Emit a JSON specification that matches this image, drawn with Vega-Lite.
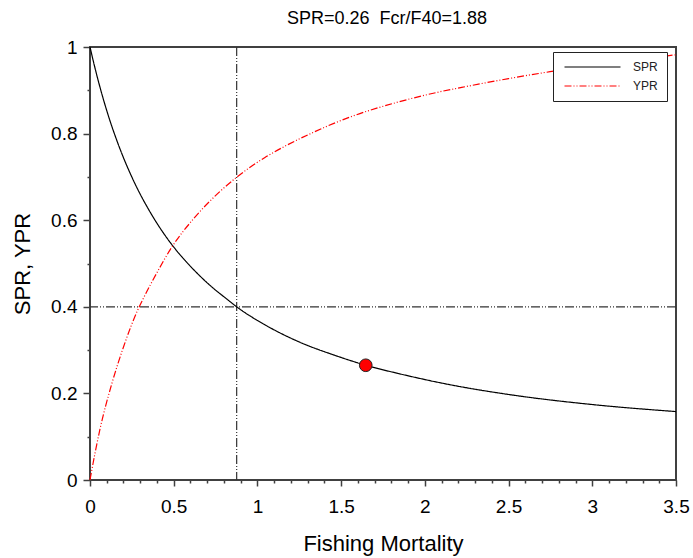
{
  "$schema": "https://vega.github.io/schema/vega-lite/v6.json",
  "width": 586,
  "height": 433,
  "autosize": {"type": "none"},
  "padding": {"left": 90, "top": 47, "right": 17, "bottom": 78},
  "background": "white",
  "title": {
    "text": "SPR=0.26\u00a0 Fcr/F40=1.88",
    "font": "Liberation Sans",
    "fontSize": 18,
    "fontWeight": "normal",
    "color": "black",
    "offset": 10,
    "dx": 4
  },
  "config": {
    "view": {"stroke": "#404040", "strokeWidth": 2},
    "axis": {
      "grid": false,
      "domain": false,
      "tickColor": "#404040",
      "tickWidth": 1.5,
      "labelFont": "Liberation Sans",
      "labelFontSize": 19,
      "labelColor": "black",
      "labelOverlap": false,
      "labelFlush": false,
      "titleFont": "Liberation Sans",
      "titleFontSize": 22,
      "titleFontWeight": "normal",
      "titleColor": "black"
    },
    "legend": {
      "labelFont": "Liberation Sans",
      "labelFontSize": 12,
      "labelColor": "#222"
    }
  },
  "datasets": {
    "curves": [
      {"F": 0, "v": 1, "series": "SPR"},
      {"F": 0.025, "v": 0.959, "series": "SPR"},
      {"F": 0.05, "v": 0.921, "series": "SPR"},
      {"F": 0.109, "v": 0.842, "series": "SPR"},
      {"F": 0.169, "v": 0.775, "series": "SPR"},
      {"F": 0.269, "v": 0.684, "series": "SPR"},
      {"F": 0.368, "v": 0.613, "series": "SPR"},
      {"F": 0.484, "v": 0.546, "series": "SPR"},
      {"F": 0.568, "v": 0.507, "series": "SPR"},
      {"F": 0.657, "v": 0.471, "series": "SPR"},
      {"F": 0.727, "v": 0.446, "series": "SPR"},
      {"F": 0.817, "v": 0.418, "series": "SPR"},
      {"F": 0.876, "v": 0.4, "series": "SPR"},
      {"F": 1.056, "v": 0.356, "series": "SPR"},
      {"F": 1.254, "v": 0.318, "series": "SPR"},
      {"F": 1.454, "v": 0.289, "series": "SPR"},
      {"F": 1.647, "v": 0.265, "series": "SPR"},
      {"F": 1.852, "v": 0.245, "series": "SPR"},
      {"F": 2.151, "v": 0.22, "series": "SPR"},
      {"F": 2.509, "v": 0.197, "series": "SPR"},
      {"F": 3.007, "v": 0.174, "series": "SPR"},
      {"F": 3.5, "v": 0.158, "series": "SPR"},
      {"F": 0, "v": 0, "series": "YPR"},
      {"F": 0.03, "v": 0.062, "series": "YPR"},
      {"F": 0.06, "v": 0.118, "series": "YPR"},
      {"F": 0.13, "v": 0.222, "series": "YPR"},
      {"F": 0.199, "v": 0.306, "series": "YPR"},
      {"F": 0.289, "v": 0.396, "series": "YPR"},
      {"F": 0.318, "v": 0.419, "series": "YPR"},
      {"F": 0.4, "v": 0.479, "series": "YPR"},
      {"F": 0.484, "v": 0.535, "series": "YPR"},
      {"F": 0.627, "v": 0.607, "series": "YPR"},
      {"F": 0.767, "v": 0.663, "series": "YPR"},
      {"F": 0.872, "v": 0.698, "series": "YPR"},
      {"F": 1.045, "v": 0.745, "series": "YPR"},
      {"F": 1.165, "v": 0.771, "series": "YPR"},
      {"F": 1.334, "v": 0.803, "series": "YPR"},
      {"F": 1.573, "v": 0.841, "series": "YPR"},
      {"F": 1.832, "v": 0.872, "series": "YPR"},
      {"F": 2.071, "v": 0.895, "series": "YPR"},
      {"F": 2.25, "v": 0.909, "series": "YPR"},
      {"F": 2.5, "v": 0.927, "series": "YPR"},
      {"F": 2.748, "v": 0.943, "series": "YPR"},
      {"F": 3.0, "v": 0.957, "series": "YPR"},
      {"F": 3.25, "v": 0.97, "series": "YPR"},
      {"F": 3.5, "v": 0.982, "series": "YPR"}
    ],
    "current": [{"F": 1.647, "v": 0.265}],
    "refx": [{"F": 0.876}],
    "refy": [{"v": 0.4}]
  },
  "encoding": {
    "x": {
      "type": "quantitative",
      "scale": {"domain": [0, 3.5], "nice": false, "zero": false},
      "axis": {
        "title": "Fishing Mortality",
        "values": [0, 0.1, 0.2, 0.3, 0.4, 0.5, 0.6, 0.7, 0.8, 0.9, 1, 1.1, 1.2, 1.3, 1.4, 1.5, 1.6, 1.7, 1.8, 1.9, 2, 2.1, 2.2, 2.3, 2.4, 2.5, 2.6, 2.7, 2.8, 2.9, 3, 3.1, 3.2, 3.3, 3.4, 3.5],
        "format": "~g",
        "labelExpr": "abs(datum.value*2 - round(datum.value*2)) < 0.001 ? datum.label : ''",
        "tickSize": {"condition": {"test": "abs(datum.value*2 - round(datum.value*2)) < 0.001", "value": 6}, "value": 3},
        "labelPadding": 11,
        "titlePadding": 17,
        "labelFlush": false,
        "labelOverlap": false
      }
    },
    "y": {
      "type": "quantitative",
      "scale": {"domain": [0, 1], "nice": false},
      "axis": {
        "title": "SPR, YPR",
        "values": [0, 0.1, 0.2, 0.3, 0.4, 0.5, 0.6, 0.7, 0.8, 0.9, 1],
        "format": "~g",
        "labelExpr": "abs(datum.value*5 - round(datum.value*5)) < 0.001 ? datum.label : ''",
        "tickSize": {"condition": {"test": "abs(datum.value*5 - round(datum.value*5)) < 0.001", "value": 7}, "value": 3},
        "labelPadding": 6,
        "titlePadding": 16,
        "labelFlush": false,
        "labelOverlap": false
      }
    }
  },
  "layer": [
    {
      "data": {"name": "refx"},
      "mark": {"type": "rule", "color": "#333", "strokeWidth": 1.2, "strokeDash": [9, 2, 1, 2, 1, 2]},
      "encoding": {
        "x": {"field": "F"},
        "y": null
      }
    },
    {
      "data": {"name": "refy"},
      "mark": {"type": "rule", "color": "#333", "strokeWidth": 1.2, "strokeDash": [9, 2, 1, 2, 1, 2]},
      "encoding": {
        "y": {"field": "v"},
        "x": null
      }
    },
    {
      "data": {"name": "curves"},
      "mark": {"type": "line", "strokeWidth": 1.2, "interpolate": "monotone"},
      "encoding": {
        "x": {"field": "F"},
        "y": {"field": "v"},
        "color": {
          "field": "series", "type": "nominal",
          "scale": {"domain": ["SPR", "YPR"], "range": ["black", "red"]},
          "legend": {
            "title": null,
            "orient": "none",
            "legendX": 463,
            "legendY": 5,
            "direction": "vertical",
            "symbolType": "M-1,0H15",
            "symbolSize": 49,
            "symbolStrokeWidth": 1.2,
            "labelOffset": 59,
            "padding": 9,
            "rowPadding": 7,
            "strokeColor": "#222",
            "fillColor": "white"
          }
        },
        "strokeDash": {
          "field": "series", "type": "nominal",
          "scale": {"domain": ["SPR", "YPR"], "range": [[1, 0], [7, 2, 1, 2, 1, 2]]},
          "legend": {
            "title": null,
            "orient": "none",
            "legendX": 463,
            "legendY": 5,
            "direction": "vertical",
            "symbolType": "M-1,0H15",
            "symbolSize": 49,
            "symbolStrokeWidth": 1.2,
            "labelOffset": 59,
            "padding": 9,
            "rowPadding": 7,
            "strokeColor": "#222",
            "fillColor": "white"
          }
        }
      }
    },
    {
      "data": {"name": "current"},
      "mark": {"type": "circle", "color": "red", "size": 160, "opacity": 1, "stroke": "#222", "strokeWidth": 1},
      "encoding": {
        "x": {"field": "F"},
        "y": {"field": "v"}
      }
    }
  ]
}
